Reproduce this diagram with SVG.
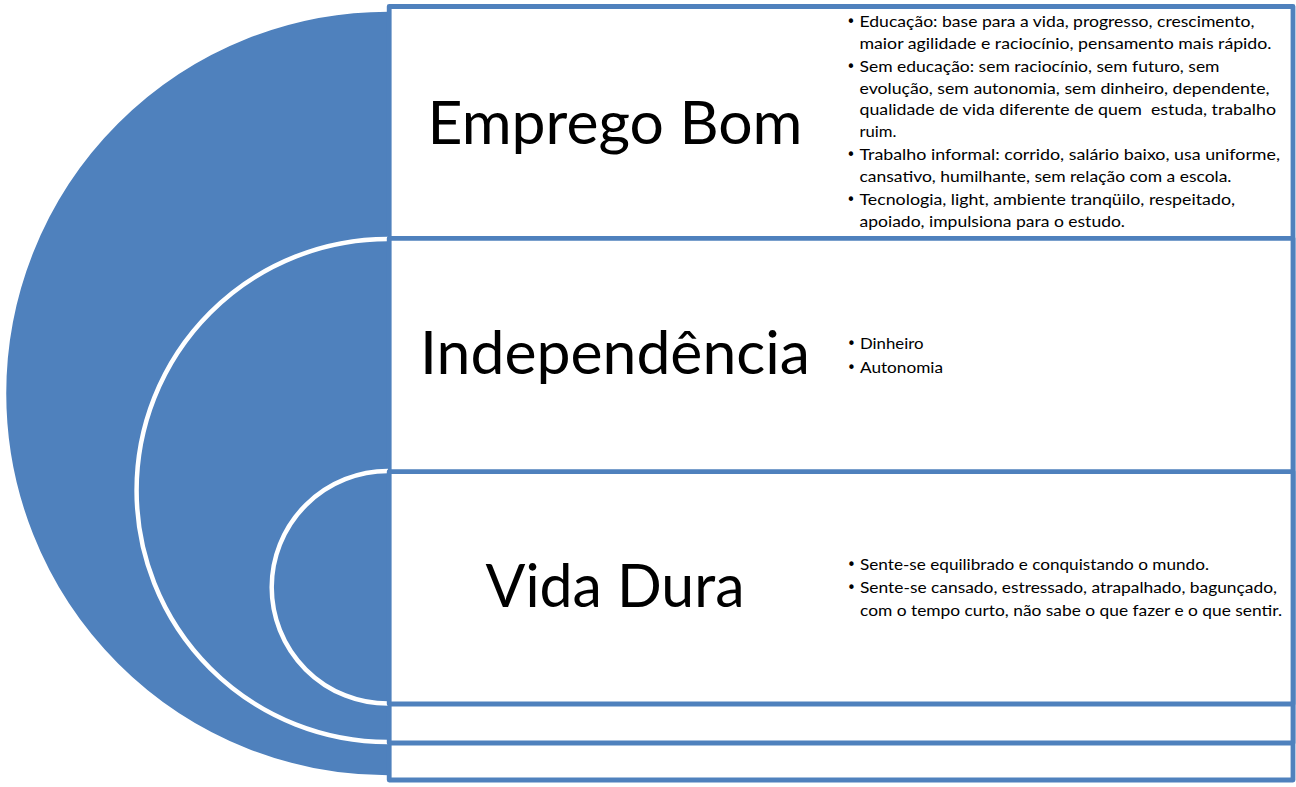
<svg xmlns="http://www.w3.org/2000/svg" width="1296" height="787" viewBox="0 0 1296 787">
  <style>
    .disc { fill: #4F81BD; stroke: #FFFFFF; stroke-width: 4.5; }
    .box { fill: #FFFFFF; stroke: #4F81BD; stroke-width: 4.8; stroke-linejoin: round; }
    .title { font-family: Lato, "Liberation Sans", sans-serif; font-size: 60px; fill: #000000; text-anchor: middle; }
    .item { font-family: Lato, "Liberation Sans", sans-serif; font-size: 16px; fill: #000000; }
    .bul { font-family: "DejaVu Sans", sans-serif; font-size: 15px; fill: #000000; text-anchor: middle; }
  </style>
  <rect x="0" y="0" width="1296" height="787" fill="#FFFFFF"/>

  <g id="node-emprego-bom">
    <path class="disc" d="M388,9.5 A384,384 0 0 0 388,777.5"/>
    <rect class="box" x="389.2" y="6.5" width="903.8" height="773.5"/>
    <text class="title" x="615" y="144" textLength="375" lengthAdjust="spacingAndGlyphs">Emprego Bom</text>
    <g class="bullets">
      <text class="bul" x="851" y="27">•</text>
      <text class="item" x="859.5" y="27" textLength="395" lengthAdjust="spacingAndGlyphs">Educação: base para a vida, progresso, crescimento,</text>
      <text class="item" x="859.5" y="48.5" textLength="412" lengthAdjust="spacingAndGlyphs">maior agilidade e raciocínio, pensamento mais rápido.</text>
      <text class="bul" x="851" y="72">•</text>
      <text class="item" x="859.5" y="72" textLength="360" lengthAdjust="spacingAndGlyphs">Sem educação: sem raciocínio, sem futuro, sem</text>
      <text class="item" x="859.5" y="93.5" textLength="410" lengthAdjust="spacingAndGlyphs">evolução, sem autonomia, sem dinheiro, dependente,</text>
      <text class="item" x="859.5" y="115" textLength="416.5" lengthAdjust="spacingAndGlyphs" xml:space="preserve">qualidade de vida diferente de quem  estuda, trabalho</text>
      <text class="item" x="859.5" y="136.5" textLength="37" lengthAdjust="spacingAndGlyphs">ruim.</text>
      <text class="bul" x="851" y="160">•</text>
      <text class="item" x="859.5" y="160" textLength="420.5" lengthAdjust="spacingAndGlyphs">Trabalho informal: corrido, salário baixo, usa uniforme,</text>
      <text class="item" x="859.5" y="181.5" textLength="372" lengthAdjust="spacingAndGlyphs">cansativo, humilhante, sem relação com a escola.</text>
      <text class="bul" x="851" y="205">•</text>
      <text class="item" x="859.5" y="205" textLength="375.5" lengthAdjust="spacingAndGlyphs">Tecnologia, light, ambiente tranqüilo, respeitado,</text>
      <text class="item" x="859.5" y="226.5" textLength="265.5" lengthAdjust="spacingAndGlyphs">apoiado, impulsiona para o estudo.</text>
    </g>
  </g>

  <g id="node-independencia">
    <path class="disc" d="M388,239 A251.5,251.5 0 0 0 388,742"/>
    <rect class="box" x="389.2" y="238.3" width="903.8" height="504.7"/>
    <text class="title" x="615" y="374" textLength="390" lengthAdjust="spacingAndGlyphs">Independência</text>
    <g class="bullets">
      <text class="bul" x="851.5" y="349">•</text>
      <text class="item" x="860" y="349" textLength="63.5" lengthAdjust="spacingAndGlyphs">Dinheiro</text>
      <text class="bul" x="851.5" y="373">•</text>
      <text class="item" x="860" y="373" textLength="83" lengthAdjust="spacingAndGlyphs">Autonomia</text>
    </g>
  </g>

  <g id="node-vida-dura">
    <path class="disc" d="M388,471 A116.3,116.3 0 0 0 388,703.6"/>
    <rect class="box" x="389.2" y="471.6" width="903.8" height="232.4"/>
    <text class="title" x="615" y="606.7" textLength="259" lengthAdjust="spacingAndGlyphs">Vida Dura</text>
    <g class="bullets">
      <text class="bul" x="851.5" y="570.3">•</text>
      <text class="item" x="860" y="570.3" textLength="349" lengthAdjust="spacingAndGlyphs">Sente-se equilibrado e conquistando o mundo.</text>
      <text class="bul" x="851.5" y="593.3">•</text>
      <text class="item" x="860" y="593.3" textLength="417" lengthAdjust="spacingAndGlyphs">Sente-se cansado, estressado, atrapalhado, bagunçado,</text>
      <text class="item" x="860" y="616" textLength="422" lengthAdjust="spacingAndGlyphs">com o tempo curto, não sabe o que fazer e o que sentir.</text>
    </g>
  </g>
</svg>
